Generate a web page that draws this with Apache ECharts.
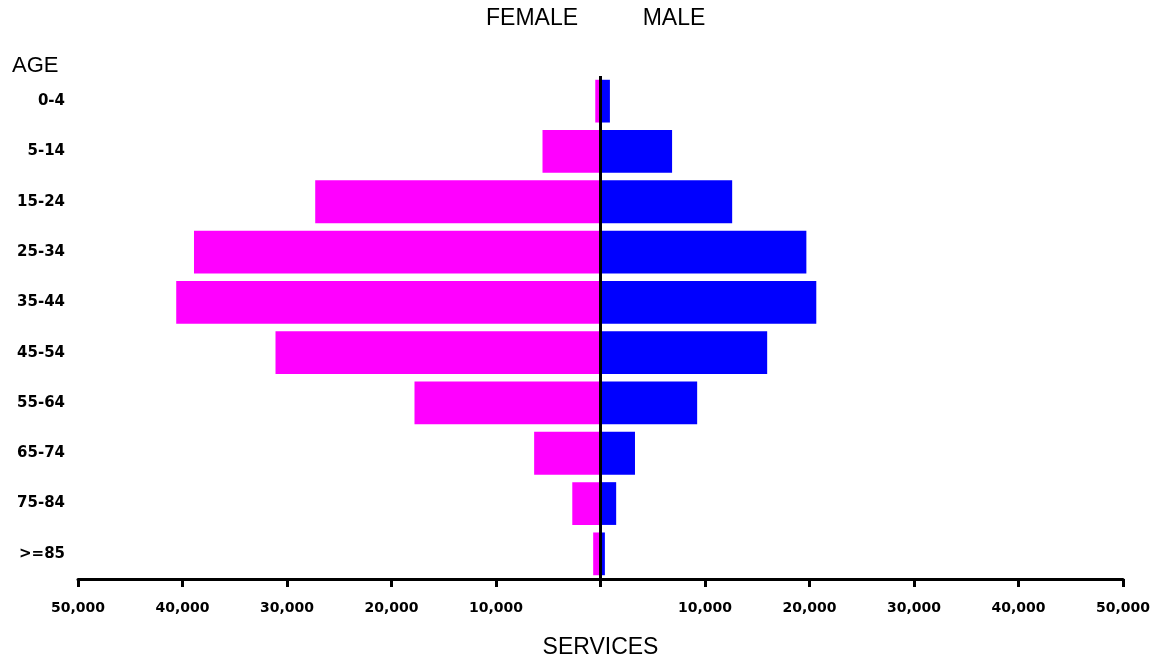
<!DOCTYPE html>
<html>
<head>
<meta charset="utf-8">
<script src="https://cdn.jsdelivr.net/npm/echarts@6/dist/echarts.min.js"></script>
<style>
html,body{margin:0;padding:0;background:#fff;}
#chart{width:1157px;height:656px;}
</style>
</head>
<body>
<div id="chart"></div>
<script>
var categories = ['0-4', '5-14', '15-24', '25-34', '35-44', '45-54', '55-64', '65-74', '75-84', '>=85'];
var femaleValues = [500, 5550, 27300, 38900, 40600, 31100, 17800, 6350, 2700, 700];
var maleValues = [900, 6850, 12600, 19700, 20650, 15950, 9250, 3300, 1500, 420];
var xTicks = [-50000, -40000, -30000, -20000, -10000, 0, 10000, 20000, 30000, 40000, 50000];

var chart = echarts.init(document.getElementById('chart'));

function fmt(v) {
  if (v === 0) return '';
  return Math.abs(v).toLocaleString('en-US');
}

var option = {
  animation: false,
  backgroundColor: '#fff',
  grid: { left: 78, right: 34, top: 76, bottom: 77, containLabel: false, outerBoundsMode: 'none' },
  graphic: [
    { type: 'text', left: 12, top: 55, style: { text: 'AGE', fontSize: 22, fontFamily: 'Liberation Sans, Arial', fill: '#000' } },
    { type: 'text', x: 532, y: 19, style: { text: 'FEMALE', fontSize: 23, fontFamily: 'Liberation Sans, Arial', fill: '#000', align: 'center', verticalAlign: 'middle' } },
    { type: 'text', x: 674, y: 19, style: { text: 'MALE', fontSize: 23, fontFamily: 'Liberation Sans, Arial', fill: '#000', align: 'center', verticalAlign: 'middle' } }
  ],
  xAxis: {
    type: 'value',
    min: xTicks[0],
    max: xTicks[xTicks.length - 1],
    interval: 10000,
    name: 'SERVICES',
    nameLocation: 'middle',
    nameGap: 57,
    nameTextStyle: { fontSize: 23, fontFamily: 'Liberation Sans, Arial', color: '#000' },
    axisLine: { show: true, onZero: false, lineStyle: { color: '#000', width: 3 } },
    axisTick: { show: true, length: 8, lineStyle: { color: '#000', width: 3 } },
    axisLabel: { formatter: fmt, fontSize: 14, fontWeight: 'bold', fontFamily: 'DejaVu Sans', color: '#000', margin: 22 },
    splitLine: { show: false }
  },
  yAxis: {
    type: 'category',
    data: categories,
    inverse: true,
    axisLine: { show: false },
    axisTick: { show: false },
    axisLabel: { fontSize: 15, fontWeight: 'bold', fontFamily: 'DejaVu Sans', color: '#000', margin: 13 }
  },
  series: [
    {
      name: 'FEMALE',
      type: 'bar',
      data: femaleValues.map(function (v) { return -v; }),
      barWidth: '85%',
      barGap: '-100%',
      itemStyle: { color: '#ff00ff' },
      markLine: {
        silent: true,
        symbol: ['none', 'none'],
        label: { show: false },
        lineStyle: { color: '#000', width: 3, type: 'solid' },
        data: [{ xAxis: 0 }],
        z: 10
      }
    },
    {
      name: 'MALE',
      type: 'bar',
      data: maleValues,
      barWidth: '85%',
      barGap: '-100%',
      itemStyle: { color: '#0000ff' }
    }
  ]
};
chart.setOption(option);
</script>
</body>
</html>
